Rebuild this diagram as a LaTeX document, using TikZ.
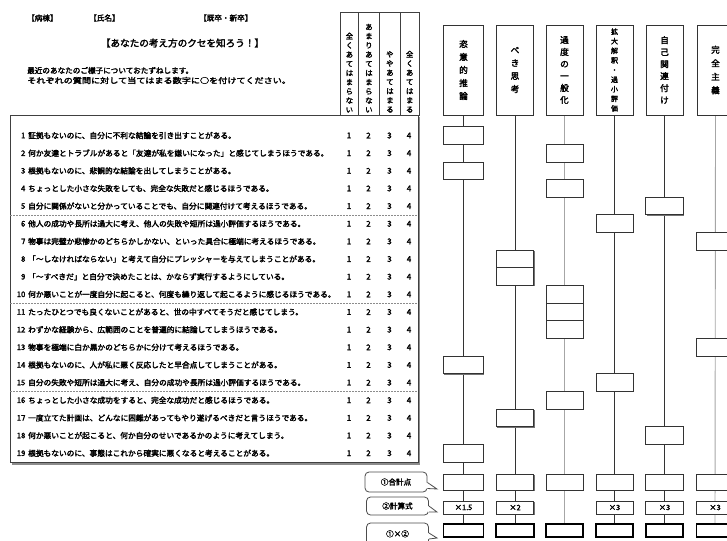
\documentclass[tikz,border=0pt]{standalone}
\usepackage{fontspec}
\setmainfont{Noto Sans CJK JP}[FakeBold=2.5]
\usetikzlibrary{shadows,backgrounds,calc}
\begin{document}
\begin{tikzpicture}[x=1pt,y=-1pt,
  every node/.style={inner sep=0pt},
  lbl/.style={font=\fontsize{7.6}{10}\selectfont, anchor=west},
  ttl/.style={font=\fontsize{9.6}{12}\selectfont},
  qtext/.style={font=\fontsize{7.7}{9}\selectfont, anchor=west},
  qnum/.style={font=\fontsize{7.6}{9}\selectfont, anchor=east},
  anum/.style={font=\fontsize{8}{9}\selectfont},
  mframe/.style={draw=black!75, line width=0.9pt, fill=white, anchor=north west},
  cell/.style={draw=black!75, line width=0.8pt, minimum height=103, anchor=north west},
  vtxt/.style={font=\fontsize{7.4}{9.2}\selectfont, align=center, anchor=south},
  sepline/.style={draw=black!45, dashed, dash pattern=on 1.5pt off 1.5pt, line width=0.6pt},
  shd/.style={drop shadow={shadow xshift=0.8pt, shadow yshift=-0.8pt, fill=black!55, opacity=1}},
  cat/.style={draw=black!80, line width=0.9pt, fill=white, minimum height=90, align=center, shd},
  rbox/.style={draw=black!80, line width=0.9pt, fill=white, minimum height=17.65, shd},
  tbox/.style={draw=black!80, line width=0.9pt, fill=white, minimum height=16, shd},
  fbox/.style={draw=black!80, line width=0.9pt, fill=white, minimum height=13, shd, font=\fontsize{7.4}{9}\selectfont},
  pbox/.style={draw=black, line width=1.6pt, fill=white, minimum height=13},
  darkline/.style={draw=black!80, line width=0.9pt},
  grayline/.style={draw=black!35, line width=0.9pt},
  callbox/.style={draw=black!70, line width=0.8pt, fill=white, rounded corners=4pt, minimum width=62, font=\fontsize{7.6}{9}\selectfont},
  callline/.style={draw=black!70, line width=0.8pt}
]
\useasboundingbox (0,0) rectangle (727,540);
\clip (0,0) rectangle (727,540);

% header labels
\node[lbl] (l1) at (27,18) {【病棟】};
\node[lbl] (l2) at (89,18) {【氏名】};
\node[lbl] (l3) at (199,18) {【既卒・新卒】};
\node[ttl] (title) at (182.5,43) {【あなたの考え方のクセを知ろう！】};
\node[lbl] (ins1) at (27,70.5) {最近のあなたのご様子についておたずねします。};
\node[lbl] (ins2) at (27,80.5) {\scalebox{1.2}[1]{それぞれの質問に対して当てはまる数字に○を付けてください。}};

% main box with shadow
\fill[black!45] (12,117) rectangle (420,464.5);
\node[mframe, minimum width=407.5, minimum height=347] (mainbox) at (10,115) {};

% answer header cells
\node[cell, minimum width=18] (k1) at (340,12) {};
\node[cell, minimum width=21] (k2) at (358,12) {};
\node[cell, minimum width=21] (k3) at (379,12) {};
\node[cell, minimum width=18.5] (k4) at (400,12) {};
\node[vtxt] (v1) at ($(k1.south)+(0,-3)$) {全\\く\\あ\\て\\は\\ま\\ら\\な\\い};
\node[vtxt] (v2) at ($(k2.south)+(0,-3)$) {あ\\ま\\り\\あ\\て\\は\\ま\\ら\\な\\い};
\node[vtxt] (v3) at ($(k3.south)+(0,-3)$) {や\\や\\あ\\て\\は\\ま\\る};
\node[vtxt] (v4) at ($(k4.south)+(0,-3)$) {全\\く\\あ\\て\\は\\ま\\る};

% dashed separators
\foreach \yy/\nm in {214.9/s1,303.2/s2,391.4/s3}{
  \coordinate (\nm a) at (10,\yy);
  \coordinate (\nm b) at (417.5,\yy);
  \draw[sepline] (\nm a) -- (\nm b);
}

% questions
\foreach \i/\t in {
 1/{証拠もないのに、自分に不利な結論を引き出すことがある。},
 2/{何か友達とトラブルがあると「友達が私を嫌いになった」と感じてしまうほうである。},
 3/{根拠もないのに、悲観的な結論を出してしまうことがある。},
 4/{ちょっとした小さな失敗をしても、完全な失敗だと感じるほうである。},
 5/{自分に関係がないと分かっていることでも、自分に関連付けて考えるほうである。},
 6/{他人の成功や長所は過大に考え、他人の失敗や短所は過小評価するほうである。},
 7/{物事は完璧か悲惨かのどちらかしかない、といった具合に極端に考えるほうである。},
 8/{「〜しなければならない」と考えて自分にプレッシャーを与えてしまうことがある。},
 9/{「〜すべきだ」と自分で決めたことは、かならず実行するようにしている。},
 10/{何か悪いことが一度自分に起こると、何度も繰り返して起こるように感じるほうである。},
 11/{たったひとつでも良くないことがあると、世の中すべてそうだと感じてしまう。},
 12/{わずかな経験から、広範囲のことを普遍的に結論してしまうほうである。},
 13/{物事を極端に白か黒かのどちらかに分けて考えるほうである。},
 14/{根拠もないのに、人が私に悪く反応したと早合点してしまうことがある。},
 15/{自分の失敗や短所は過大に考え、自分の成功や長所は過小評価するほうである。},
 16/{ちょっとした小さな成功をすると、完全な成功だと感じるほうである。},
 17/{一度立てた計画は、どんなに困難があってもやり遂げるべきだと言うほうである。},
 18/{何か悪いことが起こると、何か自分のせいであるかのように考えてしまう。},
 19/{根拠もないのに、事態はこれから確実に悪くなると考えることがある。}}{
  \pgfmathsetmacro\yy{135.5+(\i-1)*17.65}
  \node[qnum] (n\i) at (25.5,\yy) {\i};
  \node[qtext] (q\i) at (28,\yy) {\t};
  \node[anum] (a\i-1) at (349,\yy) {1};
  \node[anum] (a\i-2) at (368.5,\yy) {2};
  \node[anum] (a\i-3) at (389.5,\yy) {3};
  \node[anum] (a\i-4) at (409,\yy) {4};
}

% category headers
\node[cat, minimum width=40, font=\fontsize{8.6}{13}\selectfont] (h1) at (463.5,70) {恣\\意\\的\\推\\論};
\node[cat, minimum width=37, font=\fontsize{8.6}{13}\selectfont] (h2) at (515,70) {べ\\き\\思\\考};
\node[cat, minimum width=37, font=\fontsize{8.6}{12}\selectfont] (h3) at (564.5,70) {過\\度\\の\\一\\般\\化};
\node[cat, minimum width=37, font=\fontsize{7}{9.6}\selectfont] (h4) at (614.5,70) {拡\\大\\解\\釈\\・\\過\\小\\評\\価};
\node[cat, minimum width=37, font=\fontsize{8.6}{12}\selectfont] (h5) at (664.5,70) {自\\己\\関\\連\\付\\け};
\node[cat, minimum width=37, font=\fontsize{8.6}{13.5}\selectfont] (h6) at (715.5,70) {完\\全\\主\\義};

% bottom boxes
\foreach \c/\xx/\w in {1/463.5/40,2/515/37.5,3/564.5/37,4/614.5/37,5/664.5/37.5,6/715/37}{
  \node[tbox, minimum width=\w] (p\c) at (\xx,482) {};
  \node[pbox, minimum width=\w] (x\c) at (\xx,530.5) {};
}
\node[fbox, minimum width=40] (f1) at (463.5,507.5) {×1.5};
\node[fbox, minimum width=37.5] (f2) at (515,507.5) {×2};
\node[fbox, minimum width=37] (f4) at (614.5,507.5) {×3};
\node[fbox, minimum width=37.5] (f5) at (664.5,507.5) {×3};
\node[fbox, minimum width=37] (f6) at (715,507.5) {×3};

% vertical connectors (behind boxes)
\begin{scope}[on background layer]
  \draw[darkline] (h1.south) -- (x1.north);
  \draw[darkline] (h2.south) -- (x2.north);
  \draw[grayline] (h3.south) -- (x3.north);
  \draw[darkline] (h4.south) -- (x4.north);
  \draw[darkline] (h5.south) -- (x5.north);
  \draw[grayline] (h6.south) -- (x6.north);
\end{scope}

% row boxes
\foreach \c/\xx/\w/\rows in {1/463.5/40/{1,3,14,19},2/515/37.5/{8,9,17},3/564.5/37/{2,4,10,11,12,16},4/614.5/37/{6,15},5/664.5/37.5/{5,18},6/715/37/{7,13}}{
  \foreach \r in \rows {
    \pgfmathsetmacro\yy{135.5+(\r-1)*17.65}
    \node[rbox, minimum width=\w] (r\c-\r) at (\xx,\yy) {};
  }
}

% callouts
\node[callbox, minimum height=20] (c1) at (396,482) {①合計点};
\node[callbox, minimum height=18] (c2) at (397.5,506) {②計算式};
\node[callbox, minimum height=24] (c3) at (397.5,535) {\raisebox{3pt}{①×②}};
\coordinate (t1) at (437,489);
\coordinate (t2) at (437,512);
\coordinate (t3) at (437,538);
\foreach \k/\a/\b in {1/0.5/6.5,2/0/6,3/-2/4}{
  \fill[white] ($(c\k.east)+(-1.2,\a)$) -- ($(c\k.east)+(0,\a)$) -- (t\k) -- ($(c\k.east)+(0,\b)$) -- ($(c\k.east)+(-1.2,\b)$) -- cycle;
  \draw[callline] ($(c\k.east)+(0,\a)$) -- (t\k) -- ($(c\k.east)+(0,\b)$);
}
\end{tikzpicture}
\end{document}
